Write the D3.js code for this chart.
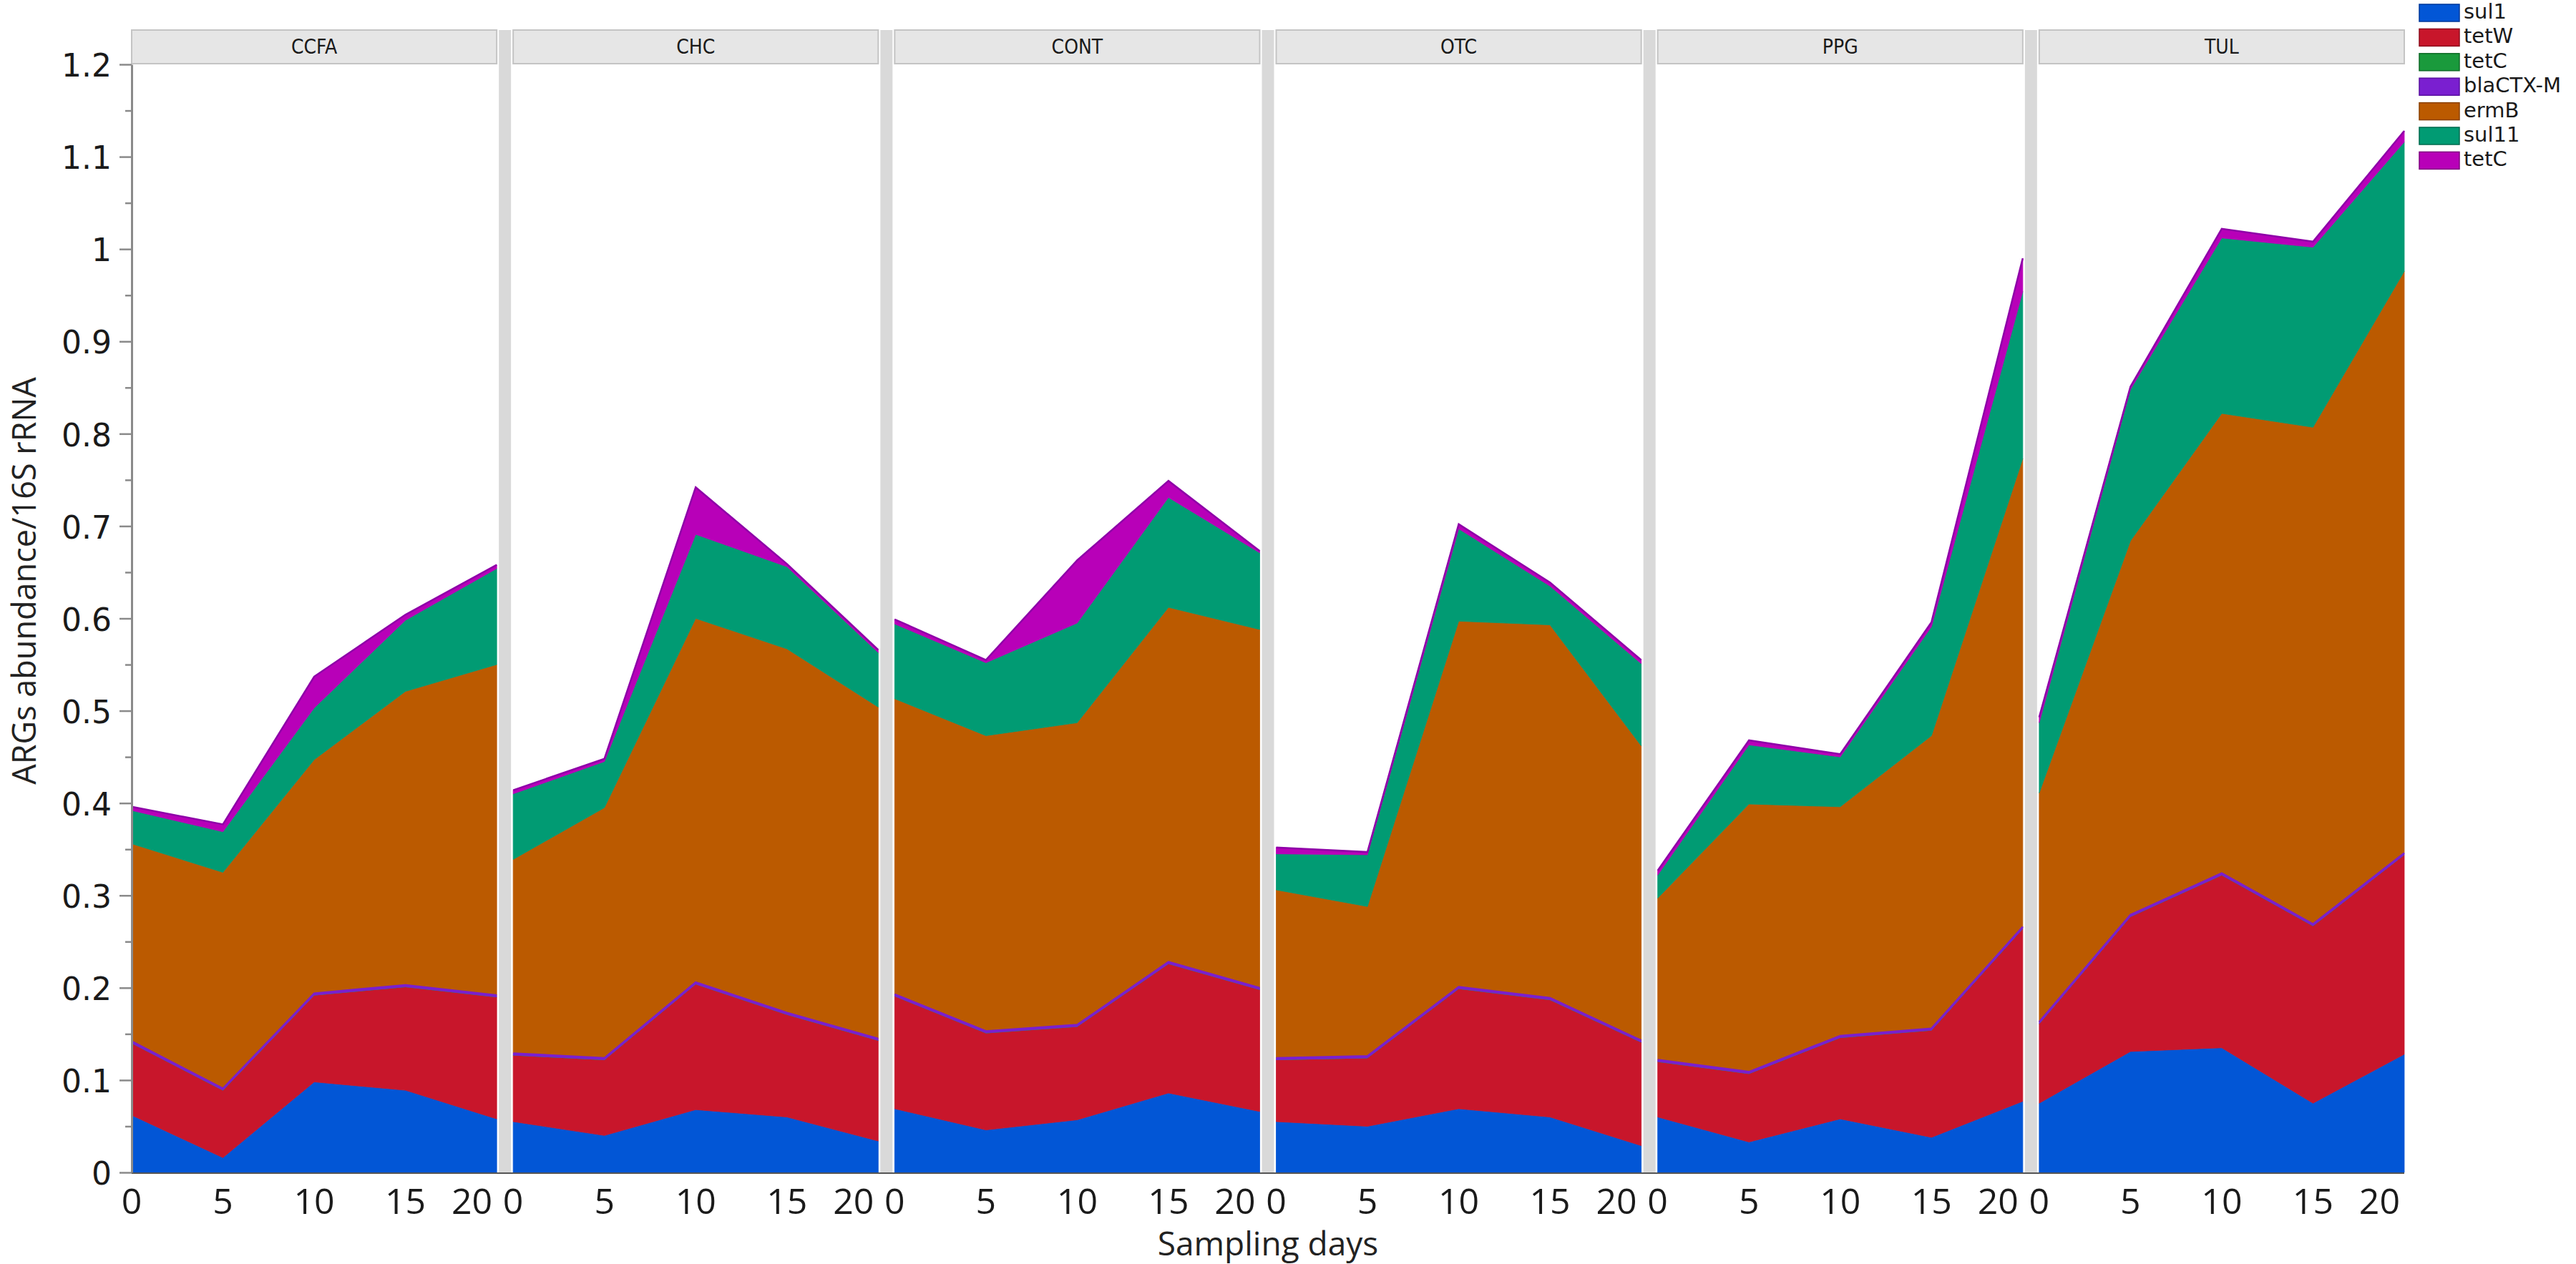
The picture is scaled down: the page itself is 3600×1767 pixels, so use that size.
<!DOCTYPE html>
<html>
<head>
<meta charset="utf-8">
<script src="https://cdn.jsdelivr.net/npm/d3@7/dist/d3.min.js"></script>
<style>
  html, body { margin: 0; padding: 0; background: #fff; }
  svg { display: block; }
</style>
</head>
<body>
<svg id="chart" width="3600" height="1767"></svg>
<script>
// ---------------- DATA ----------------
const sites = ["CCFA", "CHC", "CONT", "OTC", "PPG", "TUL"];
const days = [0, 5, 10, 15, 20];
const xTickLabels = ["0", "5", "10", "15", "20"];
const yTickValues = [0, 0.1, 0.2, 0.3, 0.4, 0.5, 0.6, 0.7, 0.8, 0.9, 1.0, 1.1, 1.2];
const genes = ["sul1", "tetW", "tetC", "blaCTX-M", "ermB", "sul11", "tetC"];

// values per site (rows follow `sites`), columns follow `days`
const sul1 = [
  [0.062, 0.016, 0.098, 0.089, 0.058],
  [0.055, 0.040, 0.068, 0.060, 0.034],
  [0.069, 0.046, 0.057, 0.086, 0.066],
  [0.055, 0.050, 0.069, 0.060, 0.029],
  [0.060, 0.033, 0.058, 0.038, 0.077],
  [0.075, 0.131, 0.135, 0.075, 0.128]
];
const tetW = [
  [0.078, 0.073, 0.094, 0.112, 0.132],
  [0.072, 0.082, 0.136, 0.111, 0.109],
  [0.122, 0.105, 0.101, 0.140, 0.132],
  [0.067, 0.074, 0.130, 0.127, 0.112],
  [0.060, 0.074, 0.088, 0.116, 0.187],
  [0.086, 0.146, 0.187, 0.192, 0.216]
];
const tetC_a = [
  [0, 0, 0, 0, 0],
  [0, 0, 0, 0, 0],
  [0, 0, 0, 0, 0],
  [0, 0, 0, 0, 0],
  [0, 0, 0, 0, 0],
  [0, 0, 0, 0, 0]
];
const blaCTXM = [
  [0.002, 0.002, 0.002, 0.002, 0.002],
  [0.002, 0.002, 0.002, 0.002, 0.002],
  [0.002, 0.002, 0.002, 0.002, 0.002],
  [0.002, 0.002, 0.002, 0.002, 0.002],
  [0.002, 0.002, 0.002, 0.002, 0.002],
  [0.002, 0.002, 0.002, 0.002, 0.002]
];
const ermB = [
  [0.214, 0.234, 0.253, 0.318, 0.358],
  [0.210, 0.271, 0.394, 0.394, 0.359],
  [0.320, 0.320, 0.327, 0.384, 0.388],
  [0.182, 0.162, 0.396, 0.404, 0.319],
  [0.175, 0.290, 0.248, 0.317, 0.507],
  [0.248, 0.405, 0.498, 0.538, 0.630]
];
const sul11 = [
  [0.036, 0.044, 0.056, 0.077, 0.104],
  [0.071, 0.050, 0.091, 0.089, 0.059],
  [0.081, 0.079, 0.108, 0.119, 0.083],
  [0.039, 0.056, 0.100, 0.042, 0.089],
  [0.025, 0.064, 0.054, 0.118, 0.181],
  [0.076, 0.164, 0.190, 0.195, 0.140]
];
const tetC_b = [
  [0.004, 0.008, 0.034, 0.006, 0.004],
  [0.004, 0.003, 0.051, 0.003, 0.003],
  [0.005, 0.003, 0.068, 0.018, 0.002],
  [0.007, 0.003, 0.005, 0.004, 0.004],
  [0.005, 0.005, 0.003, 0.005, 0.036],
  [0.006, 0.003, 0.010, 0.006, 0.012]
];
const seriesValues = [sul1, tetW, tetC_a, blaCTXM, ermB, sul11, tetC_b];

// ---------------- STYLE ----------------
const fills   = ["#0256d6", "#c8162b", "#1a9a3c", "#7a1fd0", "#bb5a00", "#019b73", "#b800b8"];
const borders = ["#00389a", "#8e0d1d", "#0e6a26", "#5a10a0", "#8a4000", "#006a4e", "#800080"];

const W = 3600, H = 1767;
const plotLeft = 184, plotRight = 3360, plotTop = 90, plotBottom = 1639;
const nP = sites.length, gap = 23;
const panelW = (plotRight - plotLeft - gap * (nP - 1)) / nP;
const headerTop = 42;

const svg = d3.select("#chart");
svg.append("rect").attr("width", W).attr("height", H).attr("fill", "#fff");

const y = d3.scaleLinear().domain([0, 1.2]).range([plotBottom, plotTop]);
const panelX = d3.scaleBand().domain(sites).range([plotLeft, plotRight + gap]).paddingInner(0).paddingOuter(0);

// separators
sites.forEach((s, i) => {
  if (i < nP - 1) {
    const x0 = panelX(s) + panelW;
    svg.append("rect").attr("x", x0 + 3).attr("y", headerTop).attr("width", gap - 6)
      .attr("height", plotBottom - headerTop).attr("fill", "#d9d9d9");
  }
});

const stackKeys = d3.range(genes.length);

sites.forEach((s, si) => {
  const x0 = panelX(s);
  const x = d3.scaleLinear().domain([0, 20]).range([x0, x0 + panelW]);
  const g = svg.append("g");

  // header
  g.append("rect").attr("x", x0).attr("y", headerTop).attr("width", panelW).attr("height", plotTop - headerTop - 1)
    .attr("fill", "#e6e6e6").attr("stroke", "#c4c4c4").attr("stroke-width", 2);
  g.append("text").attr("x", x0 + panelW / 2).attr("y", (headerTop + plotTop) / 2 + 1)
    .attr("text-anchor", "middle").attr("dominant-baseline", "middle")
    .attr("font-family", "DejaVu Sans Condensed, DejaVu Sans, sans-serif").attr("font-size", 28)
    .attr("fill", "#1a1a1a").text(s);

  const rows = days.map((d, di) => {
    const r = { day: d };
    stackKeys.forEach(k => r[k] = seriesValues[k][si][di]);
    return r;
  });
  const stacked = d3.stack().keys(stackKeys)(rows);
  const area = d3.area().x(d => x(d.data.day)).y0(d => y(d[0])).y1(d => y(d[1]));
  const topLine = d3.line().x(d => x(d.data.day)).y(d => y(d[1]));

  stacked.forEach((layer, k) => {
    g.append("path").datum(layer).attr("d", area).attr("fill", fills[k])
      .attr("stroke", fills[k]).attr("stroke-width", 0.8);
  });
  // blaCTX-M top edge (thin purple line) and overall top edge
  g.append("path").datum(stacked[3]).attr("d", topLine).attr("fill", "none")
    .attr("stroke", "#7a1fd0").attr("stroke-width", 2.5);
  g.append("path").datum(stacked[6]).attr("d", topLine).attr("fill", "none")
    .attr("stroke", "#8e00a8").attr("stroke-width", 2.5);

  // x tick labels
  days.forEach((d, di) => {
    const last = di === days.length - 1;
    g.append("text").attr("x", last ? x(d) - 6 : x(d)).attr("y", 1697)
      .attr("text-anchor", last ? "end" : "middle")
      .attr("font-family", "Open Sans, Noto Sans, sans-serif").attr("font-size", 50)
      .attr("fill", "#1a1a1a").text(xTickLabels[di]);
  });
});

// bottom baseline
svg.append("line").attr("x1", plotLeft).attr("x2", plotRight).attr("y1", plotBottom + 1).attr("y2", plotBottom + 1)
  .attr("stroke", "#555").attr("stroke-width", 2);

// y axis
const minorTicks = d3.range(0, 1.2001, 0.05).map(v => +v.toFixed(2));
const yAxis = d3.axisLeft(y).tickValues(minorTicks)
  .tickFormat(v => (Math.round(v * 100) % 10 === 0) ? d3.format("~g")(v) : "")
  .tickSizeOuter(0);
const ya = svg.append("g").attr("transform", `translate(${plotLeft},0)`).call(yAxis);
ya.select(".domain").attr("stroke", "#8a8a8a").attr("stroke-width", 3);
ya.selectAll(".tick line").attr("stroke", "#8a8a8a").attr("stroke-width", 2.5)
  .attr("x2", v => (Math.round(v * 100) % 10 === 0) ? -17 : -9);
ya.selectAll(".tick text").attr("x", -28).attr("dy", "0.38em")
  .attr("font-family", "DejaVu Sans, sans-serif").attr("font-size", 44).attr("fill", "#1a1a1a");

// axis titles
svg.append("text").attr("x", (plotLeft + plotRight) / 2).attr("y", 1755).attr("text-anchor", "middle")
  .attr("font-family", "Open Sans, Noto Sans, sans-serif").attr("font-size", 46).attr("fill", "#222")
  .text("Sampling days");
svg.append("text").attr("transform", "translate(50,812) rotate(-90)").attr("text-anchor", "middle")
  .attr("font-family", "Open Sans, Noto Sans, sans-serif").attr("font-size", 45).attr("fill", "#222")
  .text("ARGs abundance/16S rRNA");

// legend
const lg = svg.append("g");
genes.forEach((name, k) => {
  const ty = 6 + k * 34.4;
  lg.append("rect").attr("x", 3381).attr("y", ty).attr("width", 56).attr("height", 24)
    .attr("fill", fills[k]).attr("stroke", borders[k]).attr("stroke-width", 1.5);
  lg.append("text").attr("x", 3443).attr("y", ty + 12).attr("dominant-baseline", "middle")
    .attr("font-family", "DejaVu Sans, sans-serif").attr("font-size", 29).attr("fill", "#1a1a1a").text(name);
});
</script>
</body>
</html>
